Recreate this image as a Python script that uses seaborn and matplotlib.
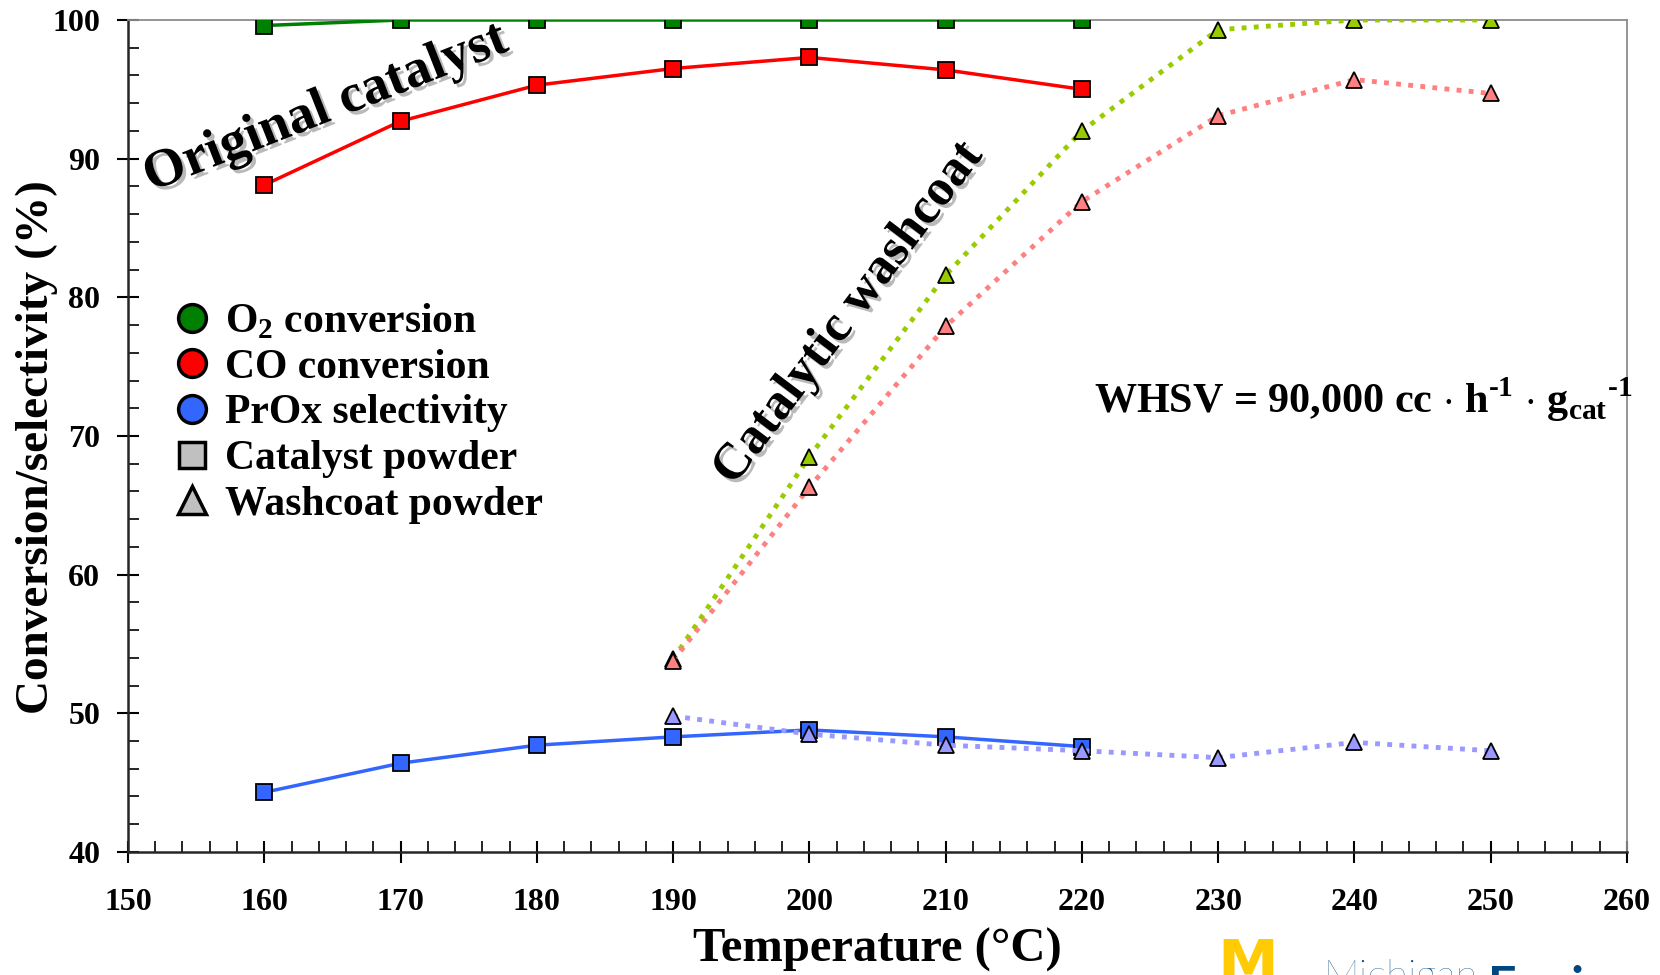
import matplotlib
matplotlib.use("Agg")
import matplotlib.pyplot as plt
import matplotlib.patheffects as pe
from matplotlib.lines import Line2D
from matplotlib.ticker import MultipleLocator
import seaborn as sns

# temperatures (deg C)
temp_powder = [160, 170, 180, 190, 200, 210, 220]
temp_washcoat = [190, 200, 210, 220, 230, 240, 250]

# catalyst powder (squares, solid lines)
o2_powder = [99.6, 100.0, 100.0, 100.0, 100.0, 100.0, 100.0]
co_powder = [88.1, 92.7, 95.3, 96.5, 97.3, 96.4, 95.0]
prox_powder = [44.3, 46.4, 47.7, 48.3, 48.8, 48.3, 47.6]

# washcoat powder (triangles, dotted lines)
o2_washcoat = [53.9, 68.5, 81.6, 92.0, 99.3, 100.0, 100.0]
co_washcoat = [53.8, 66.3, 77.9, 86.9, 93.1, 95.7, 94.7]
prox_washcoat = [49.8, 48.5, 47.7, 47.3, 46.8, 47.9, 47.3]

sns.set_style("ticks")
plt.rcParams["font.family"] = ["Liberation Serif", "DejaVu Serif"]
plt.rcParams["font.weight"] = "bold"
plt.rcParams["mathtext.fontset"] = "custom"
plt.rcParams["mathtext.rm"] = "Liberation Serif:bold"
plt.rcParams["mathtext.bf"] = "Liberation Serif:bold"
for key in ["text.color", "axes.labelcolor", "xtick.color", "ytick.color"]:
    plt.rcParams[key] = "black"

fig = plt.figure(figsize=(16.6, 9.75), dpi=100)
ax = fig.add_axes([0.0771, 0.1262, 0.9030, 0.8533])

powder = [
    (o2_powder, "#008000"),
    (co_powder, "#FF0000"),
    (prox_powder, "#3366FF"),
]
washcoat = [
    (o2_washcoat, "#99CC00"),
    (co_washcoat, "#FF8080"),
    (prox_washcoat, "#9999FF"),
]

for vals, col in powder:
    sns.lineplot(x=temp_powder, y=vals, ax=ax, color=col, linewidth=2.5,
                 marker="s", markersize=11.5, markerfacecolor=col,
                 markeredgecolor="black", markeredgewidth=1.3, zorder=3)

for vals, col in washcoat:
    sns.lineplot(x=temp_washcoat, y=vals, ax=ax, color=col, linewidth=3.5,
                 linestyle=(0, (1, 1.5)), marker="^", markersize=12,
                 markerfacecolor=col, markeredgecolor="black",
                 markeredgewidth=1.3, zorder=4)

ax.set_xlim(150, 260)
ax.set_ylim(40, 100)
ax.xaxis.set_major_locator(MultipleLocator(10))
ax.xaxis.set_minor_locator(MultipleLocator(2))
ax.yaxis.set_major_locator(MultipleLocator(10))
ax.yaxis.set_minor_locator(MultipleLocator(2))
ax.tick_params(which="major", direction="inout", length=16, width=1.5,
               labelsize=23, color="black")
ax.tick_params(axis="x", which="major", pad=18)
ax.tick_params(axis="y", which="major", pad=12)
ax.tick_params(which="minor", direction="in", length=8, width=1.2)
for lab in ax.get_xticklabels() + ax.get_yticklabels():
    lab.set_fontweight("bold")

ax.spines["left"].set_linewidth(1.8)
ax.spines["bottom"].set_linewidth(1.8)
ax.spines["top"].set_color("0.55")
ax.spines["right"].set_color("0.55")
ax.spines["top"].set_linewidth(1.3)
ax.spines["right"].set_linewidth(1.3)

ax.set_xlabel("Temperature (\u00b0C)", fontsize=35, fontweight="bold", labelpad=8)
ax.set_ylabel("Conversion/selectivity (%)", fontsize=34, fontweight="bold")
ax.yaxis.set_label_coords(-0.047, 0.487)

shadow = [pe.withSimplePatchShadow(offset=(2.5, -2.5), shadow_rgbFace="0.55", alpha=0.6)]
ax.text(164.5, 93.6, "Original catalyst", fontsize=39, fontweight="bold",
        rotation=21.5, ha="center", va="center", path_effects=shadow, zorder=5)
ax.text(202.9, 78.8, "Catalytic washcoat", fontsize=37, fontweight="bold",
        rotation=53, ha="center", va="center", path_effects=shadow, zorder=5)
ax.text(220.9, 72.6,
        r"WHSV = 90,000 cc $\cdot$ h$^{\text{-1}}$ $\cdot$ g$_{\text{cat}}$$^{\text{-1}}$",
        fontsize=30.3, fontweight="bold", ha="left", va="center", zorder=5)

handles = [
    Line2D([], [], linestyle="none", marker="o", markersize=20, markerfacecolor="#008000",
           markeredgecolor="black", markeredgewidth=2.5),
    Line2D([], [], linestyle="none", marker="o", markersize=20, markerfacecolor="#FF0000",
           markeredgecolor="black", markeredgewidth=2.5),
    Line2D([], [], linestyle="none", marker="o", markersize=20, markerfacecolor="#3366FF",
           markeredgecolor="black", markeredgewidth=2.5),
    Line2D([], [], linestyle="none", marker="s", markersize=19, markerfacecolor="#C0C0C0",
           markeredgecolor="black", markeredgewidth=2.5),
    Line2D([], [], linestyle="none", marker="^", markersize=20, markerfacecolor="#C0C0C0",
           markeredgecolor="black", markeredgewidth=2.5),
]
labels = [r"O$_2$ conversion", "CO conversion", "PrOx selectivity",
          "Catalyst powder", "Washcoat powder"]
ax.legend(handles, labels, loc="upper left", bbox_to_anchor=(0.012, 0.697),
          frameon=False, prop={"size": 30, "weight": "bold"},
          handlelength=0.8, handletextpad=0.4, labelspacing=0.18, borderpad=0.2)

# partly visible logo at the bottom edge
fig.text(1217 / 1660, 1 - 937 / 975, "M", color="#FFCB05", fontsize=44,
         fontweight="heavy", family="DejaVu Sans", va="top", ha="left")
fig.text(1323 / 1660, 1 - 959 / 975, "Michigan", color="#00467F", fontsize=29,
         fontweight="light", family="Lato", va="top", ha="left")
fig.text(1488 / 1660, 1 - 965 / 975, "Engineering", color="#00467F", fontsize=36,
         fontweight="bold", family="Lato", va="top", ha="left")

fig.savefig("out.png", dpi=100)
